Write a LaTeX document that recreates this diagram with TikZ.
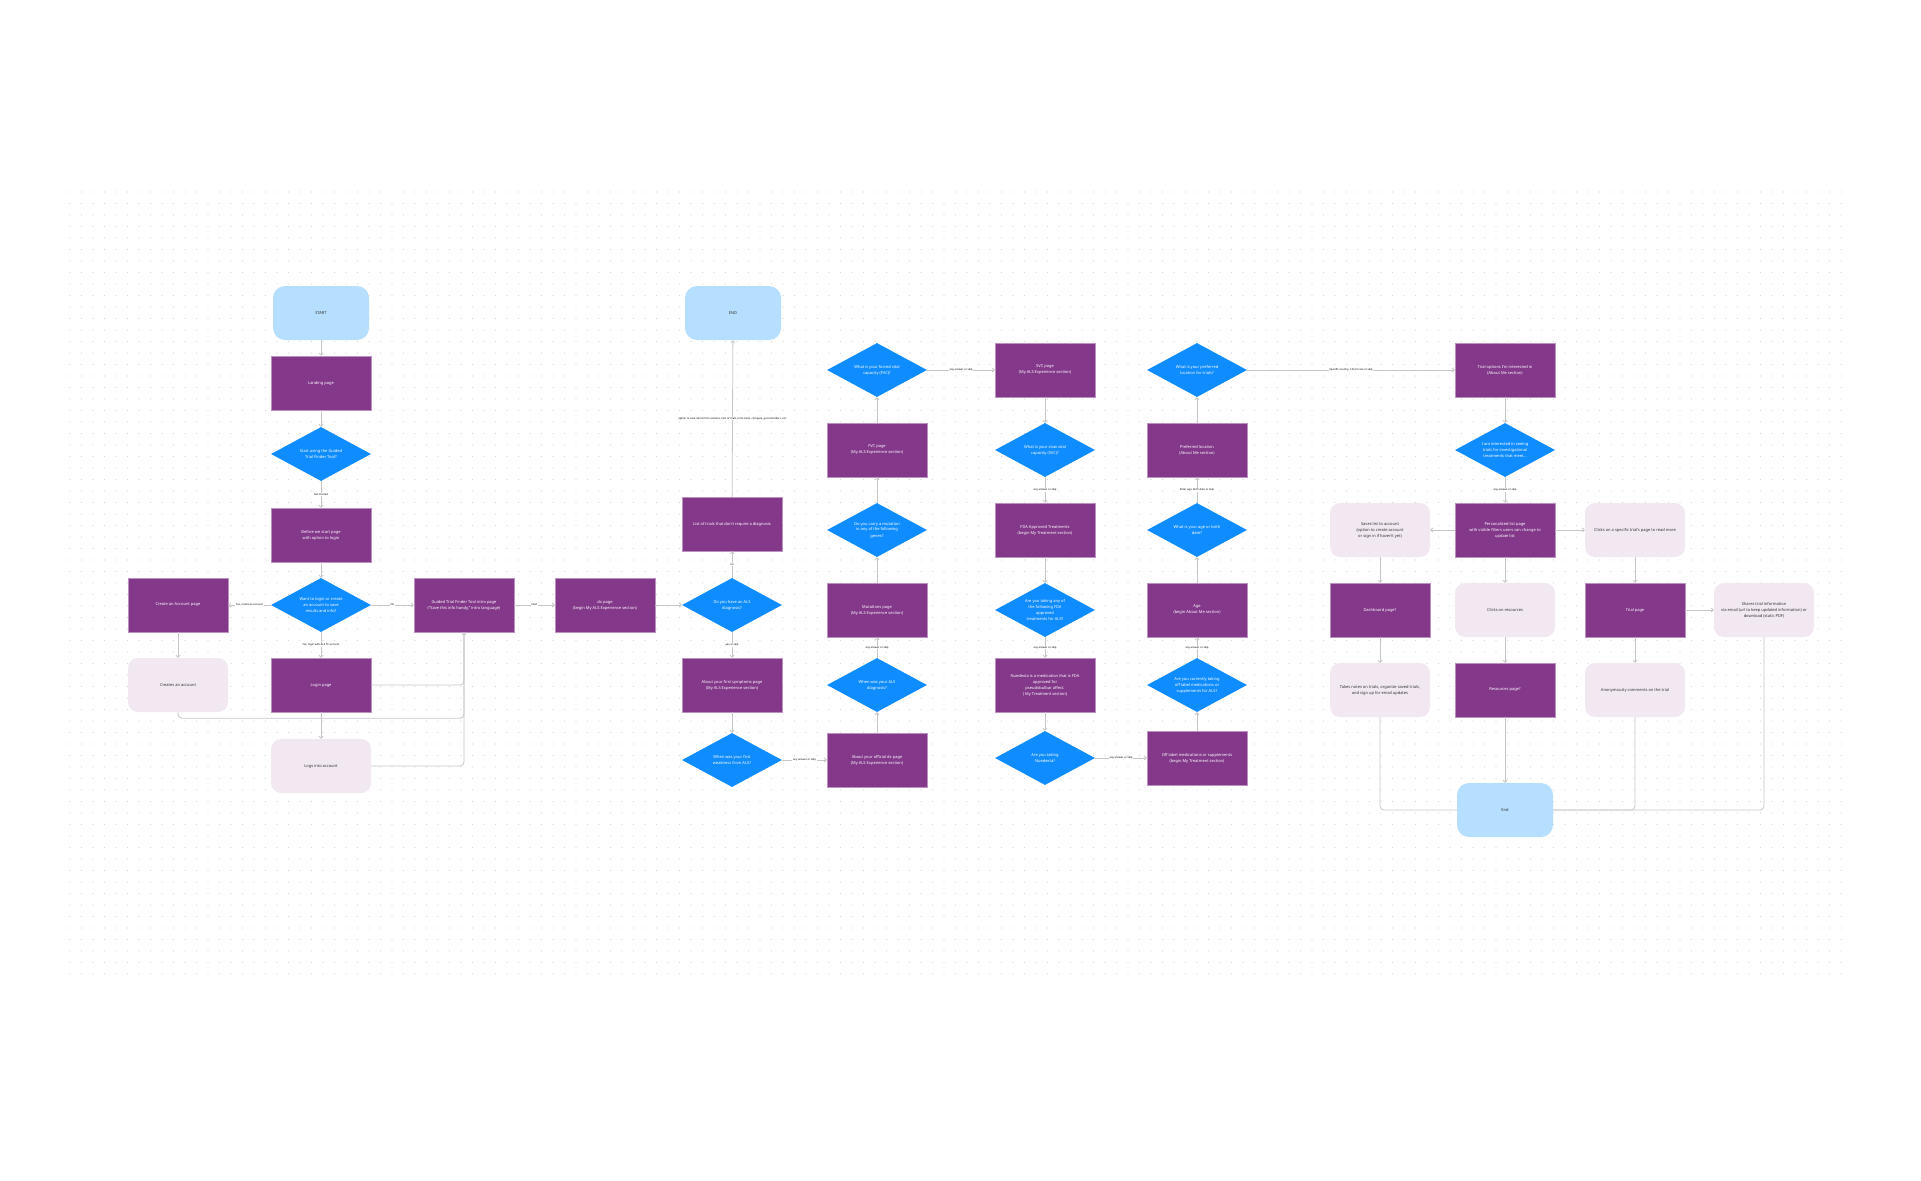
\documentclass[tikz,border=0pt]{standalone}
\usepackage{fontspec}
\setmainfont{Noto Sans}
\usetikzlibrary{shapes.geometric, arrows.meta}

\definecolor{pagepurple}{HTML}{83388A}
\definecolor{askblue}{HTML}{0F8CFF}
\definecolor{endblue}{HTML}{B5DEFF}
\definecolor{actionpink}{HTML}{F1E8F2}
\definecolor{linegray}{HTML}{C6C6C6}
\definecolor{dotgray}{HTML}{D4D4D4}
\definecolor{inktext}{HTML}{333333}

\begin{document}
\begin{tikzpicture}[x=1pt, y=-1pt,
    >={Straight Barb[length=2pt,width=4pt]},
    every node/.style={font=\fontsize{4}{6}\selectfont, align=center, inner sep=1pt},
    page/.style={rectangle, fill=pagepurple, draw=pagepurple!55!white, line width=0.5pt, text=white, minimum width=100pt, minimum height=54pt},
    ask/.style={diamond, fill=askblue, text=white, aspect=1.85, minimum width=100pt, minimum height=54pt, inner sep=0pt},
    terminal/.style={rectangle, rounded corners=12pt, fill=endblue, text=inktext, minimum width=96pt, minimum height=54pt},
    action/.style={rectangle, rounded corners=10pt, fill=actionpink, text=inktext, minimum width=100pt, minimum height=54pt},
    link/.style={->, draw=linegray, line width=0.8pt},
    merge/.style={draw=linegray, line width=0.8pt, rounded corners=4pt},
    answer/.style={fill=white, text=black, font=\fontsize{2.6}{3}\selectfont, inner sep=0.6pt}]

    \useasboundingbox (0,0) rectangle (1921,1180);

    % dot grid of the canvas
    \foreach \r in {0,...,68}
        \draw[dotgray, line width=1.2pt, line cap=round, dash pattern=on 0pt off 11.5pt] (70,192+11.5*\r) -- (1850,192+11.5*\r);

    % start, login and account
    \node[terminal] (start) at (321,313) {START};
    \node[page] (landing) at (321,383) {Landing page};
    \node[ask] (qstart) at (321,454) {Start using the Guided\\Trial Finder Tool?};
    \node[page] (before) at (321,535) {Before we start page\\with option to login};
    \node[ask] (qlogin) at (321,605) {Want to login or create\\an account to save\\results and info?};
    \node[page] (login) at (321,685) {Login page};
    \node[action] (loggedin) at (321,766) {Logs into account};
    \node[page] (signup) at (178,605) {Create an Account page};
    \node[action] (created) at (178,685) {Creates an account};
    \node[page] (intro) at (464,605) {Guided Trial Finder Tool intro page\\(``Save this info handy,'' intro language)};

    % My ALS Experience
    \node[page] (dxpage) at (605,605) {dx page\\(begin My ALS Experience section)};
    \node[terminal] (endtop) at (733,313) {END};
    \node[page] (notrials) at (732,524) {List of trials that don't require a diagnosis};
    \node[ask] (qdx) at (732,605) {Do you have an ALS\\diagnosis?};
    \node[page] (symptoms) at (732,685) {About your first symptoms page\\(My ALS Experience section)};
    \node[ask] (qweak) at (732,760) {When was your first\\weakness from ALS?};

    \node[ask] (qfvc) at (877,370) {What is your forced vital\\capacity (FVC)?};
    \node[page] (fvc) at (877,450) {FVC page\\(My ALS Experience section)};
    \node[ask] (qmutation) at (877,530) {Do you carry a mutation\\in any of the following\\genes?};
    \node[page] (mutations) at (877,610) {Mutations page\\(My ALS Experience section)};
    \node[ask] (qdxdate) at (877,685) {When was your ALS\\diagnosis?};
    \node[page] (officialdx) at (877,760) {About your official dx page\\(My ALS Experience section)};

    % My Treatment
    \node[page] (svc) at (1045,370) {SVC page\\(My ALS Experience section)};
    \node[ask] (qsvc) at (1045,450) {What is your slow vital\\capacity (SVC)?};
    \node[page] (fda) at (1045,530) {FDA Approved Treatments\\(begin My Treatment section)};
    \node[ask] (qfda) at (1045,610) {Are you taking any of\\the following FDA\\approved\\treatments for ALS?};
    \node[page] (nuedexta) at (1045,685) {Nuedexta is a medication that is FDA\\approved for\\pseudobulbar affect.\\( My Treatment section)};
    \node[ask] (qnuedexta) at (1045,758) {Are you taking\\Nuedexta?};

    % About Me
    \node[ask] (qlocation) at (1197,370) {What is your preferred\\location for trials?};
    \node[page] (location) at (1197,450) {Preferred location\\(About Me section)};
    \node[ask] (qage) at (1197,530) {What is your age or birth\\date?};
    \node[page] (age) at (1197,610) {Age\\(begin About Me section)};
    \node[ask] (qofflabel) at (1197,685) {Are you currently taking\\off label medications or\\supplements for ALS?};
    \node[page] (offlabel) at (1197,758) {Off label medications or supplements\\(begin My Treatment section)};

    % results
    \node[page] (options) at (1505,370) {Trial options I'm interested in\\(About Me section)};
    \node[ask] (qinvest) at (1505,450) {I am interested in seeing\\trials for investigational\\treatments that meet...};
    \node[page] (personal) at (1505,530) {Personalized list page\\with visible filters users can change to\\update list};
    \node[action] (saves) at (1380,530) {Saves list to account\\(option to create account\\or sign in if haven't yet)};
    \node[page] (dashboard) at (1380,610) {Dashboard page?};
    \node[action] (notes) at (1380,690) {Takes notes on trials, organize saved trials,\\and sign up for email updates};
    \node[action] (resclick) at (1505,610) {Clicks on resources};
    \node[page] (respage) at (1505,690) {Resources page?};
    \node[terminal] (endbottom) at (1505,810) {End};
    \node[action] (trialclick) at (1635,530) {Clicks on a specific trial's page to read more};
    \node[page] (trialpage) at (1635,610) {Trial page};
    \node[action] (comments) at (1635,690) {Anonymously comments on the trial};
    \node[action] (shares) at (1764,610) {Shares trial information\\via email (url to keep updated information) or\\download (static PDF)};

    \path[link] (start) edge (landing)
        (landing) edge (qstart)
        (qstart) edge node[answer] {Get started} (before)
        (before) edge (qlogin)
        (qlogin) edge node[answer] {Yes, create an account} (signup)
        (qlogin) edge node[answer] {No} (intro)
        (qlogin) edge node[answer] {Yes, login with ALS TC account} (login)
        (signup) edge (created)
        (login) edge (loggedin)
        (intro) edge node[answer] {Next} (dxpage)
        (dxpage) edge (qdx)
        (qdx) edge node[answer] {no} (notrials)
        (notrials) edge node[answer] {option to save items from sections, lists of trials, intro tools, compare, get reminders, etc.} (endtop)
        (qdx) edge node[answer] {yes or skip} (symptoms)
        (symptoms) edge (qweak)
        (qweak) edge node[answer] {any answer or skip} (officialdx)
        (officialdx) edge (qdxdate)
        (qdxdate) edge node[answer] {any answer or skip} (mutations)
        (mutations) edge (qmutation)
        (qmutation) edge (fvc)
        (fvc) edge (qfvc)
        (qfvc) edge node[answer] {any answer or skip} (svc)
        (svc) edge (qsvc)
        (qsvc) edge node[answer] {any answer or skip} (fda)
        (fda) edge (qfda)
        (qfda) edge node[answer] {any answer or skip} (nuedexta)
        (nuedexta) edge (qnuedexta)
        (qnuedexta) edge node[answer] {any answer or skip} (offlabel)
        (offlabel) edge (qofflabel)
        (qofflabel) edge node[answer] {any answer or skip} (age)
        (age) edge (qage)
        (qage) edge node[answer] {Enter age, birth date or skip} (location)
        (location) edge (qlocation)
        (qlocation) edge node[answer] {Specific country, I don't care or skip} (options)
        (options) edge (qinvest)
        (qinvest) edge node[answer] {any answer or skip} (personal)
        (personal) edge (saves)
        (personal) edge (trialclick)
        (personal) edge (resclick)
        (saves) edge (dashboard)
        (dashboard) edge (notes)
        (resclick) edge (respage)
        (respage) edge (endbottom)
        (trialclick) edge (trialpage)
        (trialpage) edge (comments)
        (trialpage) edge (shares);

    % lines back to the intro page
    \draw[merge, ->] (created.south) -- ++(0,6) -| (intro.south);
    \draw[merge] (login.east) -| (intro.south);
    \draw[merge] (loggedin.east) -| (intro.south);

    % lines into the last end
    \draw[merge] (notes.south) |- (endbottom.west);
    \draw[merge] (comments.south) |- (endbottom.east);
    \draw[merge] (shares.south) |- (endbottom.east);
\end{tikzpicture}
\end{document}
